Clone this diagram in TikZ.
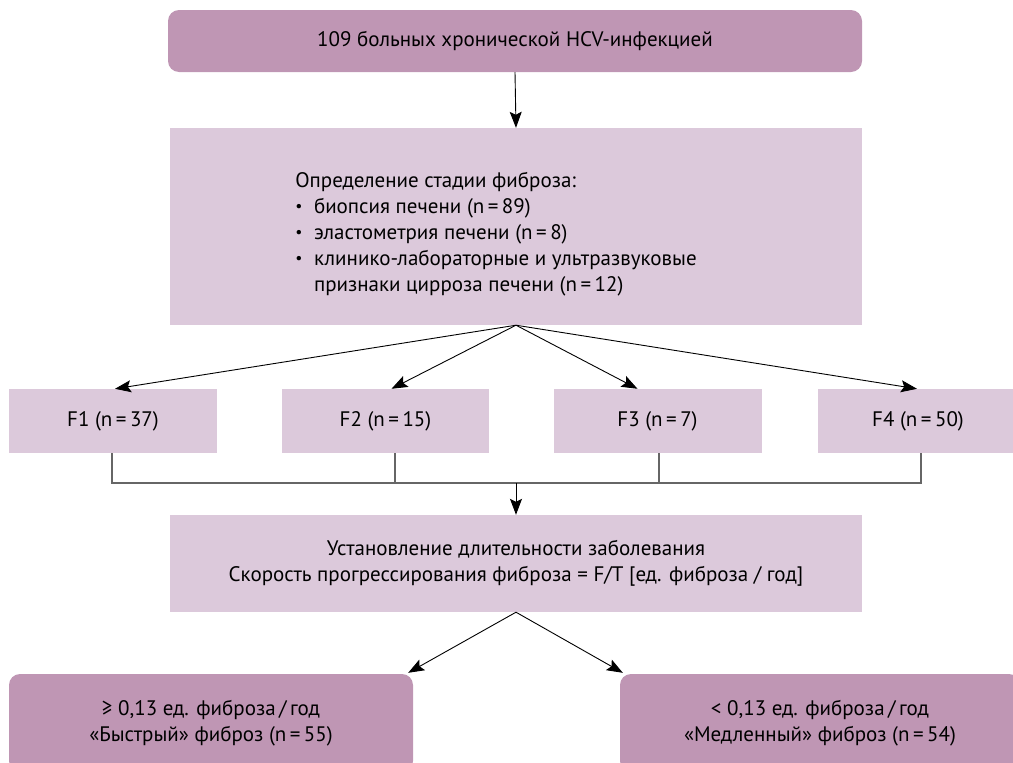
\documentclass[tikz,border=0pt]{standalone}
\usepackage{fontspec}
\setmainfont{PT Sans}
\usepackage{tikz}
\usetikzlibrary{arrows.meta,calc,positioning}
\definecolor{darkmauve}{HTML}{BF96B4}
\definecolor{lightmauve}{HTML}{DCC9DB}
\definecolor{busgray}{HTML}{666666}
\newcommand{\bul}{\raisebox{0.2ex}{\scalebox{0.75}{•}}\hspace{0.55em}}

\tikzset{
  darkbox/.style={fill=darkmauve,rounded corners=11pt,inner sep=0pt,align=center},
  lightbox/.style={fill=lightmauve,inner sep=0pt,align=center},
  arr/.style={-{Stealth[length=16pt,width=12pt,inset=3pt,fill=black]},line width=0.9pt,sharp corners},
  bus/.style={busgray,line width=1.2pt}
}

\begin{document}
\begin{tikzpicture}[x=1pt,y=-1pt,font=\fontsize{21}{26}\selectfont]
  \clip (0,0) rectangle (1013,763);
  \node[darkbox,minimum width=694pt,minimum height=62pt] (total) at (515,41) {109 больных хронической HCV-инфекцией};
  \node[lightbox,minimum width=692pt,minimum height=197pt] (stage) at (516,226.5) {%
    \begin{tabular}{@{}l@{}}
      \rule{0pt}{34pt}Определение стадии фиброза:\\
      \bul биопсия печени (n\,=\,89)\\
      \bul эластометрия печени (n\,=\,8)\\
      \bul клинико-лабораторные и ультразвуковые\\
      \phantom{\bul}признаки цирроза печени (n\,=\,12)
    \end{tabular}\hspace{40pt}};
  \node[lightbox,minimum width=208pt,minimum height=64pt] (f1) at (113,421) {F1 (n\,=\,37)};
  \node[lightbox,minimum width=207pt,minimum height=64pt] (f2) at (385.5,421) {F2 (n\,=\,15)};
  \node[lightbox,minimum width=208pt,minimum height=64pt] (f3) at (657.5,421) {F3 (n\,=\,7)};
  \node[lightbox,minimum width=200pt,minimum height=64pt] (f4) at (918,421) {F4 (n\,=\,50)};
  \node[lightbox,minimum width=692pt,minimum height=97pt] (speed) at (516,563.5) {%
    Установление длительности заболевания\\
    Скорость прогрессирования фиброза = F/T [ед. фиброза / год]};
  \node[darkbox,minimum width=404pt,minimum height=98pt] (fast) at (211,723) {%
    ≥ 0,13 ед. фиброза\,/\,год\\
    «Быстрый» фиброз (n\,=\,55)};
  \node[darkbox,minimum width=400pt,minimum height=98pt] (slow) at (820,723) {%
    < 0,13 ед. фиброза\,/\,год\\
    «Медленный» фиброз (n\,=\,54)};

  % arrows
  \draw[arr] (total.south) -- (stage.north);
  \draw[arr] (stage.south) -- ([xshift=2pt]f1.north);
  \draw[arr] (stage.south) -- ([xshift=6pt]f2.north);
  \draw[arr] (stage.south) -- ([xshift=-20pt]f3.north);
  \draw[arr] (stage.south) -- ([xshift=-1pt]f4.north);

  % bus line
  \coordinate (join) at (516,483);
  \draw[bus] ([xshift=-1pt]f1.south) |- (join);
  \draw[bus] ([xshift=9.5pt]f2.south) |- (join);
  \draw[bus] ([xshift=1.5pt]f3.south) |- (join);
  \draw[bus] ([xshift=3pt]f4.south) |- (join);
  \draw[arr] (join) -- (speed.north);

  \draw[arr] (speed.south) -- ([xshift=-5pt,yshift=1pt]fast.north east);
  \draw[arr] (speed.south) -- ([xshift=3pt,yshift=1pt]slow.north west);
\end{tikzpicture}
\end{document}
